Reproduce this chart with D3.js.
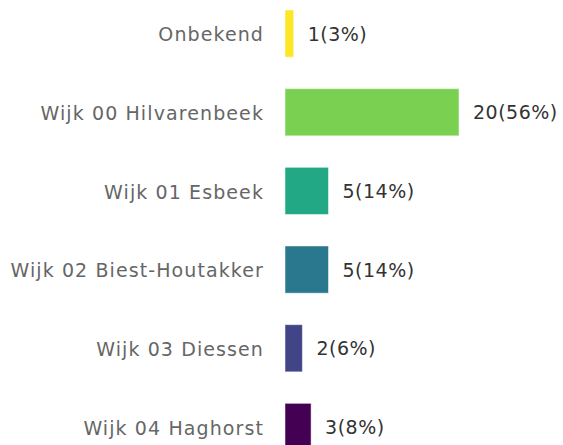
<!DOCTYPE html>
<html><head><meta charset="utf-8">
<script src="https://cdn.jsdelivr.net/npm/d3@7"></script>
<style>body{margin:0;background:#fff}svg{display:block}text{font-family:'DejaVu Sans',sans-serif}</style>
</head><body>
<script>
const categories = ["Onbekend","Wijk 00 Hilvarenbeek","Wijk 01 Esbeek","Wijk 02 Biest-Houtakker","Wijk 03 Diessen","Wijk 04 Haghorst"];
const counts = [1,20,5,5,2,3];
const percents = [3,56,14,14,6,8];
const colors = ["#fde725","#7ad151","#22a884","#2a788e","#414487","#440154"];

const W = 563, H = 445;
const svg = d3.select("body").append("svg").attr("width", W).attr("height", H);
const x = d3.scaleLinear().domain([0, 20]).range([285, 459]);
const y = d3.scaleBand().domain(categories).range([-21.5, 482]).paddingInner(0.4).paddingOuter(0.4);

const g = svg.append("g");
g.selectAll("rect").data(categories).join("rect")
  .attr("x", x(0)).attr("y", d => y(d))
  .attr("width", (d,i) => x(counts[i]) - x(0)).attr("height", y.bandwidth())
  .attr("fill", (d,i) => colors[i]).attr("stroke", "#ffffff").attr("stroke-opacity", 0.5);

const yAxis = d3.axisLeft(y).tickSize(0).tickPadding(21);
const ax = svg.append("g").attr("transform", `translate(${x(0)},0)`).call(yAxis);
ax.attr("font-family", null).attr("font-size", null);
ax.select(".domain").remove();
ax.selectAll("text").attr("dy", "0.4em").style("font-family", "'DejaVu Sans'").style("font-size", "19px").attr("fill", "#666").style("letter-spacing","1.1px");

g.selectAll("text.val").data(categories).join("text").attr("class","val")
  .attr("x", (d,i) => x(counts[i]) + 14).attr("y", d => y(d) + y.bandwidth()/2)
  .attr("dy", "0.37em").style("font-family", "'DejaVu Sans'").style("font-size", "19px").attr("fill", "#333").style("letter-spacing","0.5px")
  .text((d,i) => `${counts[i]}(${percents[i]}%)`);
</script>
</body></html>
